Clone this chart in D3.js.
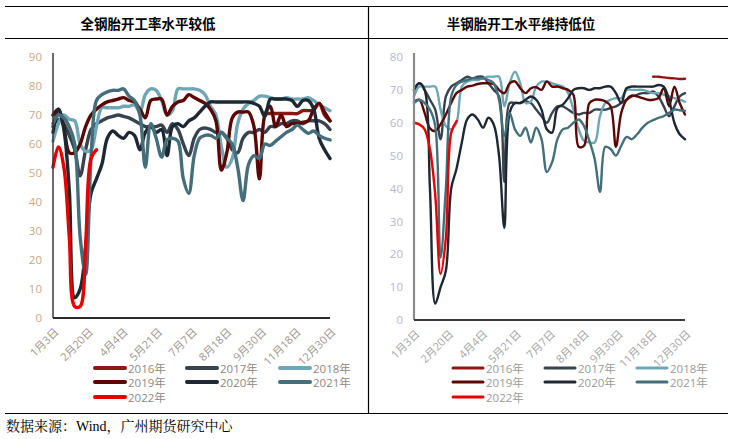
<!DOCTYPE html>
<html><head><meta charset="utf-8">
<script src="https://cdn.jsdelivr.net/npm/d3@7"></script>
<style>
html,body{margin:0;padding:0;background:#fff;}
svg{display:block;}
</style></head>
<body>
<svg id="c" width="731" height="439"></svg>
<script>
// ---------- data ----------
const years = ["2016年","2017年","2018年","2019年","2020年","2021年","2022年"];
const colors = ["#8f1414","#37434f","#6fa6b6","#5c0606","#1e2833","#436e7a","#e60000"];
const xTickLabels = ["1月3日","2月20日","4月4日","5月21日","7月7日","8月18日","9月30日","11月18日","12月30日"];
const leftYTicks = [0,10,20,30,40,50,60,70,80,90];
const rightYTicks = [0,10,20,30,40,50,60,70,80];
const titleLeft = "全钢胎开工率水平较低";
const titleRight = "半钢胎开工水平维持低位";
const sourceText = "数据来源：Wind，广州期货研究中心";
const N = null;

// 全钢胎 (weekly, 52 weeks)
const all2016 = [N,N,N,N,N,N,N,N,N,N, N,N,N,N,N,N,N,N,N,N, N,N,N,N,N,N,N,N,N,N, N,N,N,N,N,N,N,N,N,70.5, 70.5,70.5,70.5,70.5,70.5,70.5,71.5,71.5,71.7,74, 70,68];
const all2017 = [66,68.5,67,63,58,49,58,65,67,68, 69,69.5,70,69.5,69,68,67,66,66,66, 66.5,64,67,65,60,56,62,65,65.5,65, 64,64,62,58,57,62,64,64,65,64, 66,66,67,67,68,68,67,68,68,68, 67,65];
const all2018 = [61,67,70,68.5,68,60,57.5,58,66,72.5, 72.5,72.5,72.5,73,73,73.5,71,77,79,78.5, 75,70,71.5,79,79,79,79,78.5,77,73, 70,59,52,55,67,72,74,75,76.5,76.5, 76,75.5,75.5,76,75.5,75.5,75.5,76,75,73.5, 72.5,71.5];
const all2019 = [70,72,66,57,57,60,66,70,72,73.5, 74.5,75,75.5,76,75,74.5,72,69,75,75.5, 75.5,70,73,74.5,75,77,76,75,74,72, 68,51,57,69,71,71,71,66,48,70, 73,66,70,66,67,67,67.5,68,72,74, 71,68];
const all2020 = [64,72,65,44,7,10,24,43,48,53, 62,64.5,63,62,64,63,58,64,66,64, 65,56,66,67,66,68,69,71,73,74.5, 74.5,74.5,74.5,74.5,74.5,74.5,74.5,74,73,69.5, 75.5,75.5,75.5,75.5,75,73,75,75,72,62, 58,55];
const all2021 = [67,70,69,66,60,28,15,55,75,77, 78,78.5,78.5,79,76.5,75,70,52,67,62, 55.5,61.5,62,61,48,43,56,62,63,63, 62,64,62,60,52,40.5,53,56,55,60, 59.5,61,62.5,64,65,66.5,65,63.7,64.5,63, 62,61.4];
const all2022 = [52,59,52,28,4,4,25,55,58];

// 半钢胎 (weekly, 52 weeks)
const semi2016 = [N,N,N,N,N,N,N,N,N,N, N,N,N,N,N,N,N,N,N,N, N,N,N,N,N,N,N,N,N,N, N,N,N,N,N,N,N,N,N,N, N,N,N,N,N,74,74,73.8,73.6,73.5, 73.3,73.4];
const semi2017 = [70,72,70,67,64,55,68,71,72,73, 74,73.5,74,74,72,70,68,42,66,66, 66,66.5,66,64,62,60,63,65,65,64, 63,62.5,63,63,64,64,64,64.5,65,66, 67,68,68.5,69,69,69.5,68,65,62,65, 68,69];
const semi2018 = [68,71,71,71,71,64,59,58,60,71, 72.5,73,73,73.5,74,74,74,65,72,75.5, 72,66,66.5,71,72.5,72.5,72,71.5,71,69, 64,58,54.5,54,54,62,66,67,67.5,67.5, 70,70,70,70,69.5,69,69,68.5,68,67.5, 67,66.4];
const semi2019 = [66.4,67,63,58.3,57.5,59.5,62.5,66,69,70, 71,71.3,71.8,72,72,71.8,70,69,72,72.6, 70.5,69,70.5,70.8,70,72.6,71,71,70.5,70, 68.5,52.7,53,66,67,67,66.5,65,52.7,63, 67,68.3,68,67.5,67,67,67.5,70.5,65,71, 66,62.5];
const semi2020 = [70,72,70,40,5,10,15,40,46,54, 61,62.5,61,58.5,61.5,59.5,50,28,63,66, 66,67,68,67,64,58,57,64.5,65.5,67.5, 70,70.5,70.5,70,70.5,70.5,71,71,69,66, 70.5,71,71,71,71,71,71.5,71,67,60, 56.5,55];
const semi2021 = [66,67,66,64,59,19,40,68,71.5,72.5, 73,73.5,73.5,73.5,73,72,67,56,63,58, 56,58.5,54,58.5,55,45,48,55,58,58.5, 60,61,59,54.5,49,39,52.7,52,50,53, 55.7,55,56.5,58.5,60,60.8,61.5,62,63,64, 63.8,63.6];
const semi2022 = [60,59.5,58,52,38,14,25,57,60.5];

const allSeries = [all2016,all2017,all2018,all2019,all2020,all2021,all2022];
const semiSeries = [semi2016,semi2017,semi2018,semi2019,semi2020,semi2021,semi2022];

// ---------- drawing ----------
const svg = d3.select("#c");
const cjk = "'Noto Sans CJK SC','Noto Sans',sans-serif";
const tickFont = "'Open Sans','Noto Sans CJK SC',sans-serif";

// frame lines
const frame = svg.append("g").attr("stroke","#000").attr("stroke-width",1.2).attr("fill","none");
frame.append("line").attr("x1",5).attr("x2",728).attr("y1",6.5).attr("y2",6.5);
frame.append("line").attr("x1",5).attr("x2",728).attr("y1",38.5).attr("y2",38.5);
frame.append("line").attr("x1",5).attr("x2",728).attr("y1",413.5).attr("y2",413.5);
frame.append("line").attr("x1",368.5).attr("x2",368.5).attr("y1",6.5).attr("y2",413.5);

svg.append("text").attr("x",148).attr("y",23).attr("text-anchor","middle").attr("dominant-baseline","central")
  .attr("font-family",cjk).attr("font-weight","bold").attr("font-size",13.5).attr("fill","#000").text(titleLeft);
svg.append("text").attr("x",521).attr("y",23).attr("text-anchor","middle").attr("dominant-baseline","central")
  .attr("font-family",cjk).attr("font-weight","bold").attr("font-size",13.5).attr("fill","#000").text(titleRight);
svg.append("text").attr("x",6).attr("y",431)
  .attr("font-family","'Liberation Serif','Noto Serif CJK SC','Noto Sans CJK SC',serif").attr("font-size",14).attr("fill","#000").text(sourceText);

function drawPanel(cfg){
  const g = svg.append("g");
  const x = d3.scaleLinear().domain([0,51]).range([cfg.x0,cfg.x1]);
  const xl = d3.scalePoint().domain(xTickLabels).range([cfg.x0,cfg.x1]);
  const y = d3.scaleLinear().domain([0,cfg.yMax]).range([cfg.y0,cfg.yTop]);

  // y labels
  const ya = g.append("g").attr("transform",`translate(${cfg.x0},0)`)
    .call(d3.axisLeft(y).tickValues(cfg.yTicks).tickSize(0).tickPadding(11));
  ya.select(".domain").remove();
  ya.selectAll("text").attr("font-family",tickFont).attr("font-size",11.5).attr("fill",cfg.yLabelColor);

  // x labels
  const xa = g.append("g").attr("transform",`translate(0,${cfg.y0})`)
    .call(d3.axisBottom(xl).tickSize(0));
  xa.select(".domain").remove();
  xa.selectAll("text").attr("font-family",tickFont).attr("font-size",11).attr("fill",cfg.xLabelColor)
    .attr("text-anchor","end").attr("dy","0.35em").attr("y",0)
    .attr("transform","translate(3,12) rotate(-45)");

  // lines
  const line = d3.line().defined(d=>d!=null).x((d,i)=>x(i)).y(d=>y(d)).curve(d3.curveCatmullRom.alpha(0.5));
  cfg.series.forEach((s,k)=>{
    g.append("path").datum(s).attr("d",line).attr("fill","none")
      .attr("stroke",colors[k]).attr("stroke-width",cfg.lw).attr("stroke-linejoin","round").attr("stroke-linecap","round");
  });

  // axis lines
  g.append("line").attr("x1",cfg.x0).attr("x2",cfg.x0).attr("y1",cfg.yTop-4).attr("y2",cfg.y0)
    .attr("stroke",cfg.yAxisColor).attr("stroke-width",cfg.yAxisW);
  g.append("line").attr("x1",cfg.x0).attr("x2",cfg.x1).attr("y1",cfg.y0).attr("y2",cfg.y0)
    .attr("stroke",cfg.xAxisColor).attr("stroke-width",1.8);

  // legend
  const lg = g.append("g");
  years.forEach((yr,k)=>{
    const col = k%3, row = Math.floor(k/3);
    const lx = cfg.legX[col], ly = [368,382,397][row];
    lg.append("line").attr("x1",lx).attr("x2",lx+cfg.legLen).attr("y1",ly).attr("y2",ly)
      .attr("stroke",colors[k]).attr("stroke-width",cfg.legW).attr("stroke-linecap","round");
    lg.append("text").attr("x",lx+cfg.legLen+3).attr("y",ly).attr("dominant-baseline","central")
      .attr("font-family",tickFont).attr("font-size",11.5).attr("fill",cfg.legColor).text(yr);
  });
}

drawPanel({x0:53,x1:330,y0:318,yTop:57,yMax:90,yTicks:leftYTicks,series:allSeries,lw:3.4,
  yLabelColor:"#c8a985",xLabelColor:"#a09890",yAxisColor:"#3a3a3a",yAxisW:1.5,xAxisColor:"#2a2a2a",
  legX:[95,187,280],legLen:30,legW:4,legColor:"#8e8780"});
drawPanel({x0:414,x1:685,y0:320,yTop:57,yMax:80,yTicks:rightYTicks,series:semiSeries,lw:2.4,
  yLabelColor:"#b6b6c6",xLabelColor:"#a6a6a6",yAxisColor:"#8a8a8a",yAxisW:2.2,xAxisColor:"#3a3a3a",
  legX:[453,545,637],legLen:30,legW:3,legColor:"#9a9a9a"});
</script>
</body></html>
